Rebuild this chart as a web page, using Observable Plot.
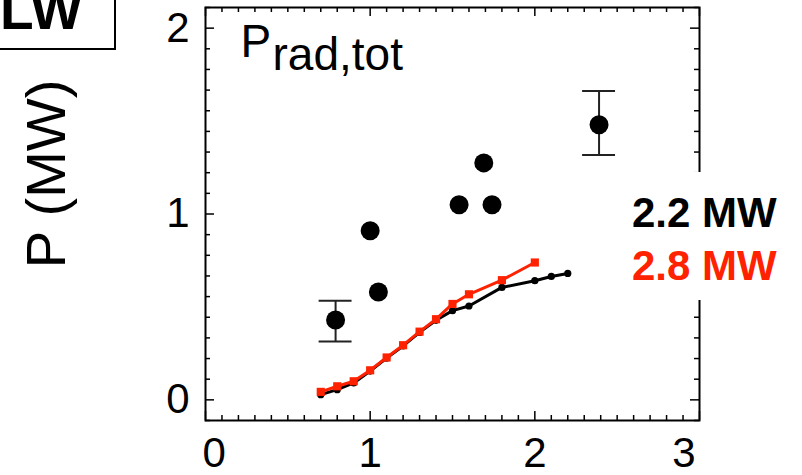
<!DOCTYPE html>
<html>
<head>
<meta charset="utf-8">
<script src="https://cdn.jsdelivr.net/npm/d3@7"></script>
<script src="https://cdn.jsdelivr.net/npm/@observablehq/plot@0.6"></script>
<style>
  body { margin: 0; background: #fff; }
  #wrap { position: relative; width: 802px; height: 475px; overflow: hidden;
          font-family: "Liberation Sans", Arial, Helvetica, sans-serif; }
  #lwbox { position: absolute; left: -2px; top: -2px; width: 114px; height: 48px;
           border: 2px solid #000; background: #fff; overflow: hidden; }
  #lwbox span { position: absolute; left: 0px; top: -17px; font-weight: bold;
                font-size: 55px; line-height: 55px; color: #000; }
  #legend { position: absolute; left: 625px; top: 172px; width: 177px; height: 128px;
            background: #fff; }
  #legend div { position: absolute; left: 7px; font-weight: bold; font-size: 42px;
                line-height: 53px; white-space: nowrap; }
</style>
</head>
<body>
<div id="wrap"></div>
<script>
// ---- data ----
// observed total radiated power (large dots)
const obsX = [0.79, 1.00, 1.05, 1.54, 1.69, 1.74, 2.39];
const obsY = [0.43, 0.91, 0.58, 1.05, 1.275, 1.05, 1.48];
// error bars on two of the observed points
const errX  = [0.79, 2.39];
const errLo = [0.314, 1.318];
const errHi = [0.533, 1.662];
// simulation, 2.2 MW (black)
const simAX = [0.7, 0.8, 0.9, 1.0, 1.1, 1.2, 1.3, 1.4, 1.5, 1.6, 1.8, 2.0, 2.1, 2.2];
const simAY = [0.028, 0.055, 0.091, 0.155, 0.225, 0.290, 0.363, 0.428, 0.480, 0.505, 0.605, 0.641, 0.664, 0.680];
// simulation, 2.8 MW (red)
const simBX = [0.7, 0.8, 0.9, 1.0, 1.1, 1.2, 1.3, 1.4, 1.5, 1.6, 1.8, 2.0];
const simBY = [0.043, 0.073, 0.100, 0.159, 0.228, 0.294, 0.367, 0.434, 0.516, 0.568, 0.644, 0.739];
// axis tick labels
const xTicks = [0, 1, 2, 3];
const yTicks = [0, 1, 2];
const seriesLabels = ["2.2 MW", "2.8 MW"];
const seriesColors = ["#000000", "#ff2200"];
const panelTag = "LW";
const yLabel = "P (MW)";

// ---- build tables ----
const obs = obsX.map((x, i) => ({x, y: obsY[i]}));
const errs = errX.map((x, i) => ({x, lo: errLo[i], hi: errHi[i]}));
const simA = simAX.map((x, i) => ({x, y: simAY[i]}));
const simB = simBX.map((x, i) => ({x, y: simBY[i]}));

const xMinor = d3.range(0, 31).map(k => k / 10).filter(v => Math.abs(v - Math.round(v)) > 1e-9);
const yMinor = d3.range(-1, 20).map(k => k / 9).filter(v => Math.abs(v - Math.round(v)) > 1e-9);

const W = 802, H = 475, mL = 205, mR = 103, mT = 7, mB = 55;
const fw = W - mL - mR, fh = H - mT - mB;
const font = "Liberation Sans, Arial, Helvetica, sans-serif";
const fmt = d3.format("d");
const xAxisOpts = {anchor: "bottom", tickSize: 0, tickPadding: 17, fontSize: 42, tickFormat: fmt, label: null};

const chart = Plot.plot({
  width: W, height: H,
  marginLeft: mL, marginRight: mR, marginTop: mT, marginBottom: mB,
  style: {fontFamily: font, background: "white", color: "black", overflow: "visible"},
  x: {domain: [0, 3], label: null},
  y: {domain: [-1/9, 2 + 1/9], label: null},
  marks: [
    // tick labels
    Plot.axisX([0], {...xAxisOpts, textAnchor: "start", dx: -3}),
    Plot.axisX([1, 2], xAxisOpts),
    Plot.axisX([3], {...xAxisOpts, textAnchor: "end", dx: -4}),
    Plot.axisY(yTicks, {anchor: "left", tickSize: 0, tickPadding: 16, fontSize: 42, tickFormat: fmt, label: null}),
    // inward ticks on all four sides
    Plot.tickX(xMinor, {x: d => d, insetTop: fh - 5, strokeWidth: 1.5}),
    Plot.tickX(xMinor, {x: d => d, insetBottom: fh - 5, strokeWidth: 1.5}),
    Plot.tickX(xTicks, {x: d => d, insetTop: fh - 9, strokeWidth: 1.5}),
    Plot.tickX(xTicks, {x: d => d, insetBottom: fh - 9, strokeWidth: 1.5}),
    Plot.tickY(yMinor, {y: d => d, insetRight: fw - 5, strokeWidth: 1.5}),
    Plot.tickY(yMinor, {y: d => d, insetLeft: fw - 5, strokeWidth: 1.5}),
    Plot.tickY(yTicks, {y: d => d, insetRight: fw - 9, strokeWidth: 1.5}),
    Plot.tickY(yTicks, {y: d => d, insetLeft: fw - 9, strokeWidth: 1.5}),
    Plot.frame({stroke: "black", strokeWidth: 2}),
    // error bars
    Plot.ruleX(errs, {x: "x", y1: "lo", y2: "hi", stroke: "#222", strokeWidth: 2}),
    Plot.ruleY(errs, {y: "lo", x1: d => d.x - 0.1, x2: d => d.x + 0.1, stroke: "#222", strokeWidth: 2}),
    Plot.ruleY(errs, {y: "hi", x1: d => d.x - 0.1, x2: d => d.x + 0.1, stroke: "#222", strokeWidth: 2}),
    // observed points
    Plot.dot(obs, {x: "x", y: "y", r: 9.5, fill: "black", stroke: "none"}),
    // simulations
    Plot.line(simA, {x: "x", y: "y", stroke: seriesColors[0], strokeWidth: 3}),
    Plot.dot(simA, {x: "x", y: "y", r: 3.6, fill: seriesColors[0], stroke: "none"}),
    Plot.line(simB, {x: "x", y: "y", stroke: seriesColors[1], strokeWidth: 3}),
    Plot.dot(simB, {x: "x", y: "y", r: 4.6, symbol: "square", fill: seriesColors[1], stroke: "none"}),
    // in-panel title P_rad,tot
    Plot.text(["P"], {frameAnchor: "top-left", textAnchor: "start", lineAnchor: "top",
                      dx: 35, dy: 17, fontSize: 46, fill: "black"}),
    Plot.text(["rad,tot"], {frameAnchor: "top-left", textAnchor: "start", lineAnchor: "top",
                      dx: 67, dy: 30, fontSize: 46, fill: "black"}),
    // y axis title
    Plot.text([yLabel], {frameAnchor: "left", rotate: -90, textAnchor: "middle", lineAnchor: "middle",
                         dx: -158, dy: -40, fontSize: 56, fill: "black"})
  ]
});

const wrap = document.getElementById("wrap");
wrap.appendChild(chart);

const lw = document.createElement("div");
lw.id = "lwbox";
const lws = document.createElement("span");
lws.textContent = panelTag;
lw.appendChild(lws);
wrap.appendChild(lw);

const leg = document.createElement("div");
leg.id = "legend";
seriesLabels.forEach((t, i) => {
  const d = document.createElement("div");
  d.textContent = t;
  d.style.top = (14 + 53 * i) + "px";
  d.style.color = seriesColors[i];
  leg.appendChild(d);
});
wrap.appendChild(leg);
</script>
</body>
</html>
